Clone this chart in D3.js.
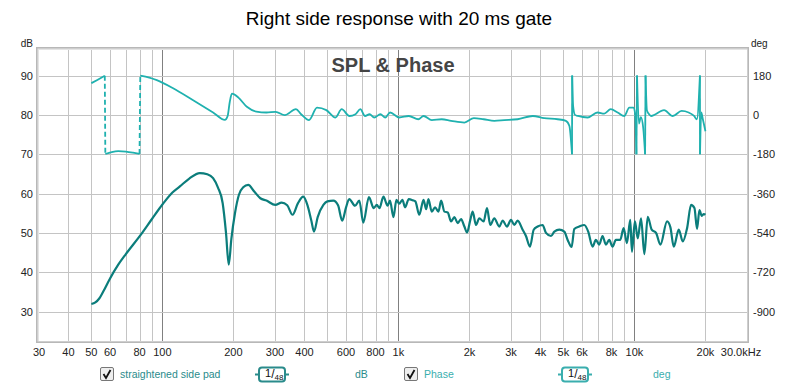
<!DOCTYPE html>
<html>
<head>
<meta charset="utf-8">
<script src="https://cdn.jsdelivr.net/npm/d3@7/dist/d3.min.js"></script>
<style>
  body { margin: 0; background: #fff; }
  text { font-family: "Liberation Sans", Arial, sans-serif; }
</style>
</head>
<body>
<div id="chart"></div>
<script>
// SPL trace (dB)
let spl_freq = [50, 52, 54, 57, 60, 65, 70, 80, 90, 100, 110, 118.6, 130, 144, 155, 164, 172, 180, 186, 191, 196,
  203, 211, 220, 231, 245, 260, 276, 301, 320, 338, 356, 375, 395, 412, 428, 439, 455, 481, 500, 530,
  555, 578, 600, 619, 655, 683, 710, 750, 786, 810, 831, 864, 900, 921, 953, 981, 1008, 1040, 1067, 1107,
  1150, 1180, 1226, 1278, 1311, 1340, 1385, 1430, 1478, 1517, 1567, 1618, 1672, 1727, 1784, 1843, 1904, 1953, 2017, 2064,
  2132, 2202, 2297, 2373, 2452, 2549, 2676, 2765, 2884, 2999, 3098, 3201, 3361, 3472, 3610, 3744, 3891, 4085, 4220, 4433,
  4579, 4807, 5047, 5214, 5420, 5563, 5840, 6130, 6373, 6646, 6868, 7095, 7329, 7572, 7822, 8080, 8347, 8710, 9000, 9298,
  9605, 9760, 10050, 10330, 10670, 11020, 11390, 11840, 12350, 12890, 13750, 14210, 14680, 15420, 16030, 16720, 17380, 17960, 18430, 18860,
  19300, 19680, 20000];
let spl_db = [31.9, 32.3, 33.3, 35.8, 38.4, 41.9, 44.6, 49.1, 53.4, 57.2, 60.2, 61.8, 63.8, 65.2, 64.9, 63.9, 61.5, 57.6, 50, 41.9, 48.5,
  55, 59.7, 61.6, 62.2, 60.5, 58.8, 58.2, 57.1, 57.7, 57, 54.6, 57.5, 59.2, 57, 53, 50.3, 54, 57.1, 58, 58.2,
  57, 53.1, 56.5, 58.6, 56.9, 58.2, 52.6, 59.1, 56.3, 57.1, 56.3, 59.2, 56.9, 58.2, 54, 58.4, 57.4, 58.4, 56.5, 58.6,
  58.3, 58, 54.6, 58.4, 56, 58.6, 55.4, 56.5, 55.4, 58.2, 55.4, 55.2, 52.9, 54, 52.5, 53.5, 51.6, 50.1, 53.3, 55.4,
  52, 53.7, 52.9, 56.3, 52, 53.7, 51.6, 53.1, 51.6, 53.3, 52, 53.1, 50.8, 49.2, 46.5, 50.8, 51.6, 52, 50, 49.2,
  50.3, 50.8, 50.3, 48.2, 46.4, 51, 51.6, 52, 50.3, 46.5, 48.2, 47, 49.2, 47, 48.2, 46.5, 48.2, 48.2, 51.2, 47.4,
  53.3, 45.2, 52.9, 48.6, 53.7, 44.6, 54.1, 50.8, 50, 47, 52.9, 51.4, 46.5, 50.8, 47.8, 51.2, 57.1, 56.3, 51, 55.8,
  54.3, 54.8, 54.6];

// Phase trace (deg), wrapped to +-180
let phase_freq = [50, 53, 57, 57.3, 61, 65, 70, 75, 80, 80.6, 88, 94.7, 111, 135, 164, 184, 189, 193, 197, 210,
  228, 250, 276, 302, 330, 368, 387, 418, 452, 495, 541, 575, 620, 658, 690, 722, 755, 790, 839, 880,
  922, 1008, 1107, 1215, 1278, 1385, 1526, 1672, 1904, 2088, 2297, 2549, 2810, 3201, 3710, 4145, 4730, 5125, 5300, 5440,
  5450, 5500, 5600, 5770, 6340, 6975, 7450, 7940, 8490, 9060, 9510, 9897, 10060, 10200, 10260, 10450, 10650, 10900, 11100, 11150,
  11300, 11600, 11770, 13360, 14540, 15850, 16970, 17900, 18400, 18950, 18970, 19200, 19500, 20000];
let phase_deg = [145, 160, 179, -179, -170, -166, -168, -173, -179, 180, 171, 159, 122, 67, 11, -23, -5, 60, 97, 79,
  37, 15, 11, 14, -1, 26, 3, -24, 33, 22, -12, 26, -5, 3, 26, -5, 3, -12, 3, -12,
  11, -12, -5, -20, -5, -24, -20, -27, -35, -15, -20, -27, -24, -20, -5, -15, -20, -27, -50, -180,
  180, 40, 0, -5, -12, 11, 6, 26, 11, -5, 33, 33, 10, -180, 180, -40, -10, -60, -180, 180,
  20, 0, -5, 22, -5, 18, 11, -5, -20, 180, -180, 11, -20, -75];

let grid_freqs = [30, 40, 50, 60, 70, 80, 90, 100, 200, 300, 400, 500, 600, 700, 800, 900,
  1000, 2000, 3000, 4000, 5000, 6000, 7000, 8000, 9000, 10000, 20000, 30000];
let x_tick_vals = [30, 40, 50, 60, 80, 100, 200, 300, 400, 600, 800, 1000, 2000, 3000, 4000, 5000, 6000, 8000, 10000, 20000, 30000];
let x_tick_labels = ["30", "40", "50", "60", "80", "100", "200", "300", "400", "600", "800", "1k", "2k", "3k", "4k", "5k", "6k", "8k", "10k", "20k", "30.0kHz"];
let db_ticks = [90, 80, 70, 60, 50, 40, 30];
let deg_ticks = [180, 0, -180, -360, -540, -720, -900];

let spl_color = "#0b7d7b";
let phase_color = "#1fb1af";

let W = 800, H = 388;
let m = {l: 39, r: 747, t: 50, b: 341};

let svg = d3.select("#chart").append("svg").attr("width", W).attr("height", H);

let xScale = d3.scaleLog().domain([30, 30000]).range([m.l, m.r]);
let yScale = d3.scaleLinear().domain([22.5, 96.5]).range([m.b, m.t]);
// phase axis lines up so that 10 dB == 180 deg, 80 dB == 0 deg
let pScale = d3.scaleLinear().domain([(22.5 - 80) * 18, (96.5 - 80) * 18]).range([m.b, m.t]);

// title
svg.append("text").attr("x", 399).attr("y", 25).attr("text-anchor", "middle")
   .attr("font-size", "19px").attr("fill", "#000").text("Right side response with 20 ms gate");

// frame with bevel
svg.append("rect").attr("x", m.l - 3).attr("y", m.t - 3).attr("width", m.r - m.l + 5).attr("height", m.b - m.t + 5)
   .attr("fill", "#b8b8b8");
svg.append("rect").attr("x", m.l - 1.5).attr("y", m.t - 1.5).attr("width", m.r - m.l + 2).attr("height", m.b - m.t + 2)
   .attr("fill", "#e4e4e4");
svg.append("rect").attr("x", m.l).attr("y", m.t).attr("width", m.r - m.l).attr("height", m.b - m.t).attr("fill", "#fff");

let plot = svg.append("g");

// grid
plot.selectAll("line.vgrid").data(grid_freqs.filter(f => f > 30 && f < 30000)).enter()
    .append("line").attr("class", "vgrid")
    .attr("x1", d => Math.round(xScale(d)) + 0.5).attr("x2", d => Math.round(xScale(d)) + 0.5)
    .attr("y1", m.t).attr("y2", m.b)
    .attr("stroke", d => [100, 1000, 10000].includes(d) ? "#808080" : "#c4c4c4").attr("stroke-width", 1);

plot.selectAll("line.hgrid").data(db_ticks).enter()
    .append("line").attr("class", "hgrid")
    .attr("x1", m.l).attr("x2", m.r)
    .attr("y1", d => Math.round(yScale(d)) + 0.5).attr("y2", d => Math.round(yScale(d)) + 0.5)
    .attr("stroke", "#c4c4c4").attr("stroke-width", 1);

// SPL & Phase label
svg.append("text").attr("x", 393).attr("y", 72).attr("text-anchor", "middle")
   .attr("font-size", "20px").attr("font-weight", "bold").attr("fill", "#454545").text("SPL & Phase");

// axis labels
svg.append("text").attr("x", 33).attr("y", 47).attr("text-anchor", "end").attr("font-size", "10px").attr("fill", "#222").text("dB");
svg.append("text").attr("x", 751).attr("y", 47).attr("font-size", "10px").attr("fill", "#222").text("deg");

svg.selectAll("text.dbtick").data(db_ticks).enter().append("text").attr("class", "dbtick")
   .attr("x", 33).attr("y", d => yScale(d) + 4).attr("text-anchor", "end")
   .attr("font-size", "11px").attr("fill", "#222").text(d => d);

svg.selectAll("text.degtick").data(deg_ticks).enter().append("text").attr("class", "degtick")
   .attr("x", 753).attr("y", d => pScale(d) + 4)
   .attr("font-size", "11px").attr("fill", "#222").text(d => d);

svg.selectAll("text.xtick").data(x_tick_vals).enter().append("text").attr("class", "xtick")
   .attr("x", (d, i) => i == x_tick_vals.length - 1 ? xScale(d) - 6 : xScale(d))
   .attr("y", 356).attr("text-anchor", "middle")
   .attr("font-size", "11px").attr("fill", "#222").text((d, i) => x_tick_labels[i]);

// clip to plot area
svg.append("clipPath").attr("id", "clip").append("rect")
   .attr("x", m.l).attr("y", m.t).attr("width", m.r - m.l).attr("height", m.b - m.t);
let traces = svg.append("g").attr("clip-path", "url(#clip)");

// SPL
let spl_data = spl_freq.map((f, i) => [f, spl_db[i]]);
let line = d3.line().x(d => xScale(d[0])).curve(d3.curveMonotoneX);
traces.append("path").datum(spl_data)
      .attr("d", line.y(d => yScale(d[1])))
      .attr("fill", "none").attr("stroke", spl_color).attr("stroke-width", 2.2).attr("stroke-linejoin", "round");

// Phase: split at wraps; low-frequency wraps get a dashed connector
let phase_data = phase_freq.map((f, i) => [f, phase_deg[i]]);
let segments = [[phase_data[0]]];
let wraps = [];
for (let i = 1; i < phase_data.length; i++) {
  if (Math.abs(phase_data[i][1] - phase_data[i - 1][1]) > 270) {
    wraps.push([phase_data[i - 1], phase_data[i]]);
    segments.push([]);
  }
  segments[segments.length - 1].push(phase_data[i]);
}
let pline = d3.line().x(d => xScale(d[0])).y(d => pScale(d[1])).curve(d3.curveMonotoneX);
traces.selectAll("path.phase").data(segments).enter().append("path").attr("class", "phase")
      .attr("d", pline).attr("fill", "none").attr("stroke", phase_color).attr("stroke-width", 1.8)
      .attr("stroke-linejoin", "round");
traces.selectAll("line.wrap").data(wraps).enter().append("line").attr("class", "wrap")
      .attr("x1", d => xScale(d[0][0])).attr("y1", d => pScale(d[0][1]))
      .attr("x2", d => xScale(d[1][0])).attr("y2", d => pScale(d[1][1]))
      .attr("stroke", phase_color).attr("stroke-width", 1.8)
      .attr("stroke-dasharray", d => d[0][0] < 1000 ? "5,3" : null);

// legend
function legend_item(x, label, color, box_x, unit_x, unit) {
  let g = svg.append("g");
  g.append("rect").attr("x", x + 0.5).attr("y", 367.5).attr("width", 13).attr("height", 13)
   .attr("fill", "#eee").attr("stroke", "#777").attr("rx", 1.5);
  g.append("path").attr("d", `M${x + 3.5},${374} L${x + 6},${378} L${x + 10.5},${370}`)
   .attr("fill", "none").attr("stroke", "#111").attr("stroke-width", 1.8);
  g.append("text").attr("x", x + 20).attr("y", 378).attr("font-size", "10.5px").attr("fill", color).text(label);

  g.append("line").attr("x1", box_x - 4).attr("x2", box_x + 30).attr("y1", 374.5).attr("y2", 374.5)
   .attr("stroke", color).attr("stroke-width", 2);
  g.append("rect").attr("x", box_x).attr("y", 367.5).attr("width", 26).attr("height", 14).attr("rx", 3)
   .attr("fill", "#fff").attr("stroke", color).attr("stroke-width", 2);
  let t = g.append("text").attr("x", box_x + 6).attr("y", 377).attr("fill", "#111");
  t.append("tspan").attr("font-size", "11px").text("1");
  t.append("tspan").attr("font-size", "12px").attr("dy", 1).text("/");
  t.append("tspan").attr("font-size", "8px").attr("dy", 1.5).text("48");

  g.append("text").attr("x", unit_x).attr("y", 378).attr("font-size", "10.5px").attr("fill", color).text(unit);
}
legend_item(100, "straightened side pad", "#2a8b8b", 259, 355, "dB");
legend_item(404, "Phase", "#3aaeae", 562, 653, "deg");
</script>
</body>
</html>
